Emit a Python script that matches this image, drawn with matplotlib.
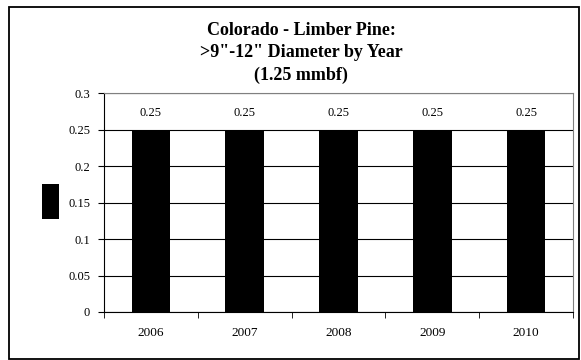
import matplotlib
matplotlib.use("Agg")
import matplotlib.pyplot as plt
from matplotlib.patches import Rectangle

years = ["2006", "2007", "2008", "2009", "2010"]
values = [0.25, 0.25, 0.25, 0.25, 0.25]
yticks = [0, 0.05, 0.1, 0.15, 0.2, 0.25, 0.3]
ytick_labels = ["0", "0.05", "0.1", "0.15", "0.2", "0.25", "0.3"]
title = "Colorado - Limber Pine:\n>9\"-12\" Diameter by Year\n(1.25 mmbf)"

plt.rcParams['font.family'] = ['Liberation Serif', 'DejaVu Serif']

W, H = 581, 360
fig = plt.figure(figsize=(W / 100, H / 100), dpi=100)
fig.patches.append(Rectangle((9 / W, 1.5 / H), 570 / W, 351.5 / H, transform=fig.transFigure,
                             fill=False, edgecolor='black', linewidth=1.3))

ax = fig.add_axes([104 / W, 1 - 312 / H, 469 / W, 219 / H])
x = list(range(len(years)))
bars = ax.bar(x, values, width=0.41, color='black', zorder=3)
ax.set_xlim(-0.5, len(years) - 0.5)
ax.set_ylim(0, 0.3)
ax.set_yticks(yticks)
ax.set_yticklabels(ytick_labels, fontsize=9)
ax.set_xticks(x)
ax.set_xticklabels(years, fontsize=9.5)
ax.set_xticks([i - 0.5 for i in range(len(years) + 1)], minor=True)
ax.tick_params(axis='x', which='major', length=0, pad=11)
ax.tick_params(axis='x', which='minor', length=4, direction='out', color='black')
ax.tick_params(axis='y', length=4, direction='out', color='black', pad=6)
ax.grid(axis='y', color='black', linewidth=0.8, zorder=0)
for s in ['top', 'right']:
    ax.spines[s].set_color('#808080')
for s in ['left', 'bottom']:
    ax.spines[s].set_color('black')
for i, v in enumerate(values):
    ax.text(i, v + 0.022, f"{v:g}", ha='center', va='center', fontsize=9)

fig.text(301 / W, 1 - 53 / H, title, ha='center', va='center', fontsize=13,
         fontweight='bold', linespacing=1.4)

leg = fig.legend([bars], [""], loc='center', bbox_to_anchor=(50.5 / W, 1 - 201.5 / H),
                 frameon=False, handlelength=1.55, handleheight=4.5, fontsize=8,
                 handletextpad=0, borderpad=0, borderaxespad=0)

fig.savefig("out.png", dpi=100)
